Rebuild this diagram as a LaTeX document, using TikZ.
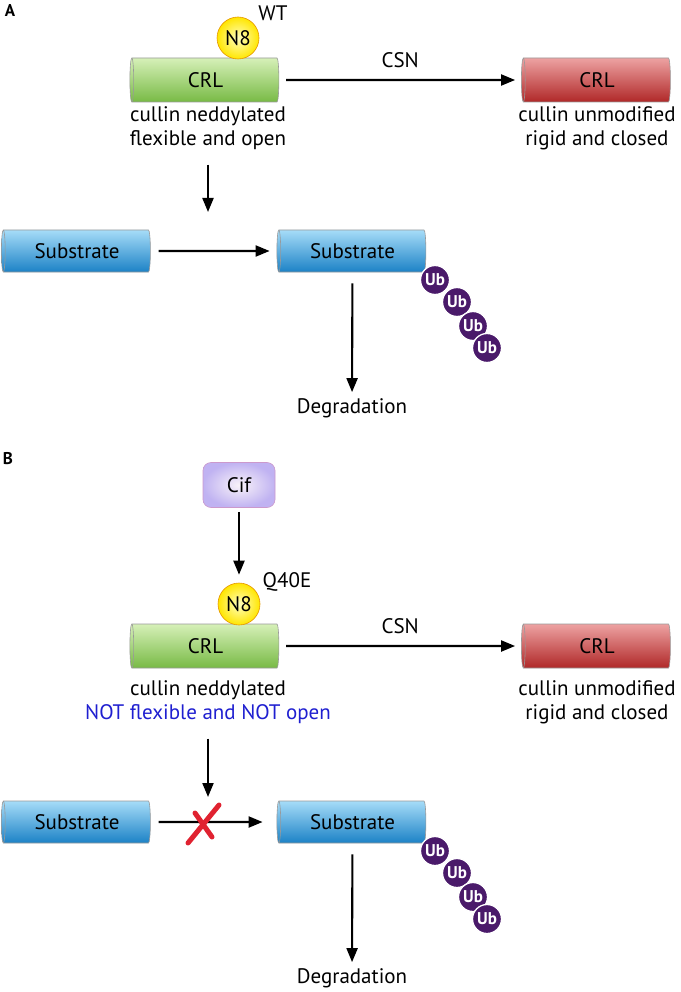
\documentclass[tikz,border=0pt]{standalone}
\usepackage{fontspec}
\setmainfont{PT Sans}
\usepackage{tikz}
\usetikzlibrary{arrows.meta,shapes.geometric}
\definecolor{greentop}{HTML}{D6F0B8}
\definecolor{greenmid}{HTML}{B0DE86}
\definecolor{greenbot}{HTML}{78BA45}
\definecolor{redtop}{HTML}{EDA2A2}
\definecolor{redmid}{HTML}{DC5454}
\definecolor{redbot}{HTML}{B02828}
\definecolor{bluetop}{HTML}{A6DCF8}
\definecolor{bluemid}{HTML}{42ACEA}
\definecolor{bluebot}{HTML}{1C82C6}
\definecolor{ubpurple}{HTML}{4A1A6A}
\definecolor{notblue}{HTML}{1F1FD0}
\definecolor{xred}{HTML}{E02230}
\newcommand{\lfont}{\fontsize{21}{24}\selectfont}

\tikzset{
	lab/.style={font=\lfont, inner sep=3pt},
	panel/.style={font=\fontsize{17}{17}\selectfont\bfseries, inner sep=0pt},
	cyl/.style={shape=cylinder, shape border rotate=180, aspect=0.25, draw=black!40, line width=0.6pt,
		minimum height=149pt, minimum width=44pt, inner sep=0pt, font=\lfont},
	cylgreen/.style={cyl, top color=greentop, middle color=greenmid, bottom color=greenbot},
	cylred/.style={cyl, top color=redtop, middle color=redmid, bottom color=redbot},
	cylblue/.style={cyl, minimum width=42pt, top color=bluetop, middle color=bluemid, bottom color=bluebot},
	neddball/.style={circle, minimum size=42pt, inner sep=0pt, draw=orange!70!yellow!90!black, line width=0.6pt,
		inner color=yellow!25, outer color=yellow!80!orange, font=\lfont},
	ub/.style={circle, minimum size=29pt, inner sep=0pt, fill=ubpurple, draw=white, line width=1.3pt,
		text=white, font=\fontsize{17}{17}\selectfont\bfseries},
	cifbox/.style={rectangle, rounded corners=8pt, minimum width=72pt, minimum height=45pt, draw=violet!40,
		line width=0.6pt, inner color=violet!5, outer color=violet!35!blue!30, font=\lfont},
	arr/.style={->, line width=2.1pt},
	xmark/.style={xred, line width=5pt, line cap=round},
}

\begin{document}
\begin{tikzpicture}[x=1pt, y=-1pt, >={Triangle[length=14pt,width=11pt]}]
	\useasboundingbox (0,0) rectangle (680,992);
	% panel A
	\node[panel] (pa) at (10,11) {A};
	\node[cylgreen] (crl1) at (205.5,80) {CRL};
	\node[neddball] (n81) at (238,38) {N8};
	\node[lab] (wt) at (273,13) {WT};
	\node[cylred] (crl2) at (597,80) {CRL};
	\node[lab, align=center] (t1) at (208,128) {cullin neddylated\\flexible and open};
	\node[lab, align=center] (t2) at (597,128) {cullin unmodified\\rigid and closed};
	\node[cylblue] (sub1) at (77,251) {Substrate};
	\node[cylblue] (sub2) at (352.5,251) {Substrate};
	\coordinate (m1) at (208,212);
	\node[lab] (deg1) at (352,408) {Degradation};
	\foreach \x/\y [count=\i] in {435/280,457/302,473/326,487/348}
		\node[ub] (ua\i) at (\x,\y) {Ub};
	%
	\draw[arr, shorten <=7pt, shorten >=6pt] (crl1) edge node[lab, yshift=20pt] {CSN} (crl2);
	\draw[arr, shorten <=12pt] (t1) -- (m1);
	\draw[arr, shorten <=8pt, shorten >=7pt] (sub1) -- (sub2);
	\draw[arr, shorten <=11pt, shorten >=3pt] (sub2) -- (deg1);

	% panel B
	\node[panel] (pb) at (8,459) {B};
	\node[cifbox] (cif) at (239,485) {Cif};
	\node[cylgreen] (crl3) at (205.5,646) {CRL};
	\node[neddball] (n82) at (239,604) {N8};
	\node[lab] (q40e) at (287,582) {Q40E};
	\node[cylred] (crl4) at (597,646) {CRL};
	\node[lab, align=center] (t3) at (208,702) {cullin neddylated\\\textcolor{notblue}{NOT flexible and NOT open}};
	\node[lab, align=center] (t4) at (597,702) {cullin unmodified\\rigid and closed};
	\node[cylblue] (sub3) at (77,822) {Substrate};
	\node[cylblue] (sub4) at (352.5,822) {Substrate};
	\coordinate (m2) at (208,797);
	\node[lab] (deg2) at (352,978) {Degradation};
	\foreach \x/\y [count=\i] in {435/851,457/873,473/897,487/919}
		\node[ub] (ub\i) at (\x,\y) {Ub};
	%
	\draw[arr, shorten <=4pt, shorten >=8pt] (cif) -- (n82);
	\draw[arr, shorten <=7pt, shorten >=6pt] (crl3) edge node[lab, yshift=20pt] {CSN} (crl4);
	\draw[arr, shorten <=12pt] (t3) -- (m2);
	\draw[arr, shorten <=8pt, shorten >=14pt] (sub3) -- (sub4);
	\draw[arr, shorten <=11pt, shorten >=3pt] (sub4) -- (deg2);
	\draw[xmark] (188,843) -- (219,805);
	\draw[xmark] (195,813) -- (212,837);
\end{tikzpicture}
\end{document}
